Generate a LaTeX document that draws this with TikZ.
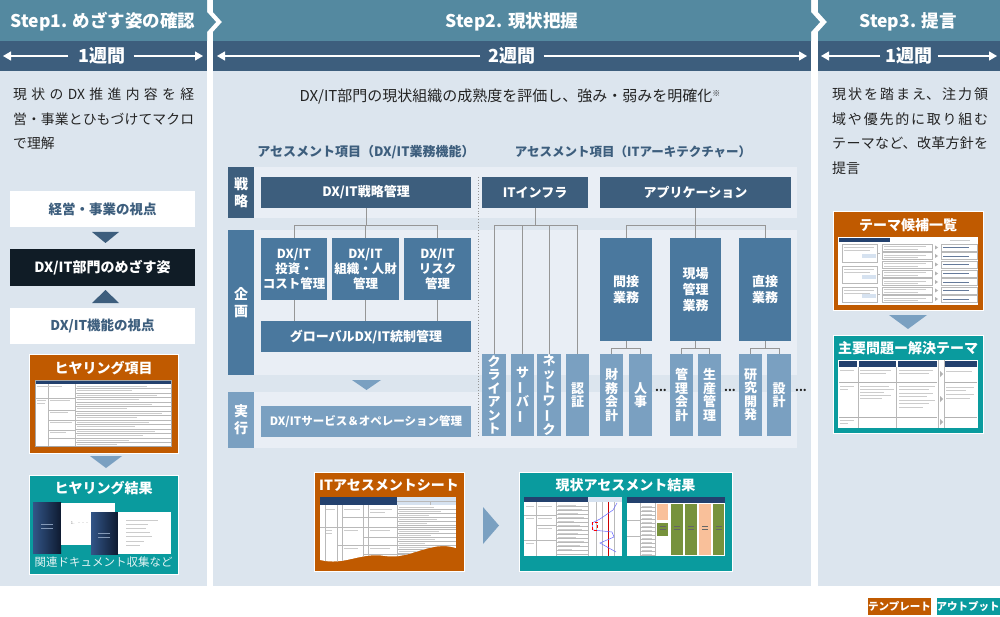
\documentclass[tikz,border=0pt]{standalone}
\usepackage{fontspec}
\setmainfont{Noto Sans CJK JP}
\usetikzlibrary{arrows.meta}
\XeTeXlinebreaklocale "ja"
\XeTeXlinebreakskip=0pt plus 6pt\relax
\definecolor{hdr}{RGB}{84,137,160}
\definecolor{dur}{RGB}{61,94,125}
\definecolor{bodyc}{RGB}{220,229,238}
\definecolor{panel}{RGB}{233,238,245}
\definecolor{dkbox}{RGB}{61,94,125}
\definecolor{mdbox}{RGB}{74,120,158}
\definecolor{ltbox}{RGB}{122,160,193}
\definecolor{orng}{RGB}{192,90,0}
\definecolor{tealc}{RGB}{10,155,158}
\definecolor{blk}{RGB}{16,28,38}
\definecolor{conn}{RGB}{150,150,150}
\definecolor{txt}{RGB}{35,35,35}
\definecolor{navy}{RGB}{35,65,110}
\definecolor{lblue}{RGB}{214,226,240}
\definecolor{grn}{RGB}{119,146,60}
\definecolor{peach}{RGB}{249,192,154}
\definecolor{coverA}{RGB}{50,85,135}
\definecolor{coverB}{RGB}{14,26,48}
\newcommand\mybox[7]{\node[#1, minimum width={#5pt-#3pt}, minimum height={#6pt-#4pt}] (#2) at ({(#3+#5)/2},{(#4+#6)/2}) {#7};}
\newcommand\vbarJ{\rotatebox[origin=c]{90}{ー}}
\tikzset{
 bx/.style={inner sep=0pt, outer sep=0pt, align=center, text=white, font=\fontsize{13}{15.5}\selectfont\bfseries},
 dk/.style={bx, fill=dkbox},
 md/.style={bx, fill=mdbox},
 lt/.style={bx, fill=ltbox},
 vt/.style={font=\fontsize{13}{13.5}\selectfont\bfseries},
 wt/.style={bx, fill=white, text=dkbox, font=\fontsize{13.5}{16}\selectfont\bfseries},
 bk/.style={bx, fill=blk, font=\fontsize{14}{16}\selectfont\bfseries},
 ln/.style={draw=conn, line width=1pt},
 tmpl/.style={bx, fill=orng, draw=white, line width=1pt},
 outp/.style={bx, fill=tealc, draw=white, line width=1pt},
 ttl/.style={text=white, inner sep=0pt, font=\fontsize{14}{16}\selectfont\bfseries},
 htitle/.style={text=white, inner sep=0pt, font=\fontsize{17.5}{20}\selectfont\bfseries},
 dtitle/.style={text=white, inner sep=0pt, font=\fontsize{18}{20}\selectfont\bfseries},
 darr/.style={draw=white, line width=1.2pt, -{Triangle[length=8pt,width=9pt]}},
 desc/.style={text=txt, inner sep=0pt, font=\fontsize{14}{24.5}\selectfont},
 jst/.style={align=justify, anchor=north west, execute at begin node={\tolerance=10000\relax}},
 atitle/.style={text=dkbox, inner sep=0pt, font=\fontsize{12.5}{15}\selectfont\bfseries},
 tg/.style={draw=gray!55, line width=0.3pt},
 tx/.style={draw=gray!40, line width=0.9pt},
 legend/.style={bx, font=\fontsize{10.5}{12}\selectfont\bfseries},
 dotsn/.style={text=txt, inner sep=0pt, font=\fontsize{11}{12}\selectfont\bfseries},
 tiny/.style={text=gray, inner sep=0pt, font=\fontsize{4}{5}\selectfont},
}
\begin{document}
\begin{tikzpicture}[x=1pt,y=-1pt]
\useasboundingbox (0,0) rectangle (1000,617);
% ---------- headers ----------
\fill[hdr] (0,0) -- (207,0) -- (207,12) -- (216,22) -- (207,32) -- (207,41) -- (0,41) -- cycle;
\fill[hdr] (213,0) -- (811,0) -- (811,12) -- (820,22) -- (811,32) -- (811,41) -- (213,41) -- (213,32) -- (222,22) -- (213,12) -- cycle;
\fill[hdr] (818,0) -- (1000,0) -- (1000,41) -- (818,41) -- (818,32) -- (827,22) -- (818,12) -- cycle;
\fill[dur] (0,41) rectangle (207,71);
\fill[dur] (213,41) rectangle (811,71);
\fill[dur] (818,41) rectangle (1000,71);
\fill[bodyc] (0,71) rectangle (207,586);
\fill[bodyc] (213,71) rectangle (811,586);
\fill[bodyc] (818,71) rectangle (1000,586);
\node[htitle] (h1) at (103,22) {Step1. めざす姿の確認};
\node[htitle] (h2) at (512,22) {Step2. 現状把握};
\node[htitle] (h3) at (908,22) {Step3. 提言};
% durations
\node[dtitle] (d1) at (102,56) {1週間};
\coordinate (d1l) at (3,56); \coordinate (d1r) at (203,56);
\draw[darr] ([xshift=-10pt]d1.west) -- (d1l);
\draw[darr] ([xshift=8pt]d1.east) -- (d1r);
\node[dtitle] (d2) at (512,56) {2週間};
\coordinate (d2l) at (217,56); \coordinate (d2r) at (807,56);
\draw[darr] ([xshift=-8pt]d2.west) -- (d2l);
\draw[darr] ([xshift=8pt]d2.east) -- (d2r);
\node[dtitle] (d3) at (909,56) {1週間};
\coordinate (d3l) at (821,56); \coordinate (d3r) at (997,56);
\draw[darr] ([xshift=-5pt]d3.west) -- (d3l);
\draw[darr] ([xshift=5pt]d3.east) -- (d3r);
% ---------- descriptions ----------
\node[desc, jst, font=\fontsize{13.8}{24.5}\selectfont, text width=181pt] (t1) at (13,88) {現状のDX推進内容を経\linebreak 営・事業とひもづけてマクロ\linebreak で理解};
\node[desc, font=\fontsize{15}{24.5}\selectfont] (t2) at (510,97) {DX/IT部門の現状組織の成熟度を評価し、強み・弱みを明確化\raisebox{5pt}{\fontsize{8}{8}\selectfont ※}};
\node[desc, jst, font=\fontsize{14}{24.5}\selectfont, text width=156pt] (t3) at (832,88) {現状を踏まえ、注力領\linebreak 域や優先的に取り組む\linebreak テーマなど、改革方針を\linebreak 提言};
% ---------- step1 ----------
\mybox{wt}{v1}{10}{191}{195}{227}{経営・事業の視点}
\fill[dkbox] (92,232) -- (119,232) -- (105.5,243) -- cycle;
\mybox{bk}{goal}{10}{249}{195}{286}{DX/IT部門のめざす姿}
\fill[dkbox] (92,303) -- (119,303) -- (105.5,290) -- cycle;
\mybox{wt}{v2}{10}{308}{195}{344}{DX/IT機能の視点}
% hearing items
\mybox{tmpl}{hq}{29}{354}{178}{453}{}
\node[ttl] (hqt) at (103.5,368) {ヒヤリング項目};
\fill[white] (35,380) rectangle (171,446);
\fill[navy] (35,380) rectangle (171,384);
\draw[tg] (48,384) -- (48,446) (75,384) -- (75,446);
\foreach \yy in {388.5,393,...,446} \draw[tg] (75,\yy) -- (171,\yy);
\draw[tg] (35,398) -- (75,398) (48,410) -- (75,410) (48,420) -- (75,420) (48,430) -- (75,430) (48,438) -- (75,438);
\foreach \yy/\ll in {386/70,390.5/55,395/80,399.5/62,404/75,408.5/50,413/85,417.5/60,422/72,426.5/58,431/78,435.5/66,440/52,444/40} \draw[tx] (77,\yy) -- ++(\ll,0);
\draw[tx] (37,386) -- ++(25,0) (37,400) -- ++(9,0) (37,403) -- ++(8,0) (50,400) -- ++(20,0) (50,412) -- ++(18,0) (50,422) -- ++(22,0) (50,432) -- ++(16,0);
\draw[gray!70, line width=0.4pt] (35,380) rectangle (171,446);
\fill[ltbox] (90,456) -- (122,456) -- (106,468) -- cycle;
% hearing results
\mybox{outp}{hres}{29}{475}{178}{574}{}
\node[ttl] (hrt) at (103.5,488) {ヒヤリング結果};
\shade[left color=coverA, right color=coverB] (33,502) rectangle (61,553);
\draw[white!40!coverA, line width=0.8pt] (41,524) -- ++(12,0) (41,528) -- ++(12,0);
\fill[white] (61,503) rectangle (115,545);
\node[tiny] (p1t) at (80,523) {1．・・・};
\shade[left color=coverA, right color=coverB] (91,512) rectangle (118,554);
\draw[white!40!coverA, line width=0.8pt] (98,533) -- ++(12,0) (98,537) -- ++(12,0);
\fill[white] (118,512) rectangle (171,554);
\foreach \i/\ll in {0/32,1/22,2/20,3/24,4/26,5/18,6/14} \draw[tx, line width=0.7pt] (126,{520+\i*4.2}) -- ++(\ll,0);
\node[ttl, font=\fontsize{11.5}{13}\selectfont, text=white!88!tealc] (hrc) at (103.5,562) {関連ドキュメント収集など};
% ---------- step2 panels ----------
\fill[panel] (228,167) rectangle (797,218);
\fill[panel] (228,230) rectangle (797,375);
\fill[panel] (228,392) rectangle (797,448);
\node[atitle, font=\fontsize{13}{15}\selectfont\bfseries] (a1) at (366,152) {アセスメント項目（DX/IT業務機能）};
\node[atitle] (a2) at (633,152) {アセスメント項目（ITアーキテクチャー）};
\mybox{dk,font=\fontsize{14}{17}\selectfont\bfseries}{lS}{228}{167}{254}{218}{戦\\略}
\mybox{md,font=\fontsize{14}{17}\selectfont\bfseries}{lK}{228}{230}{254}{375}{企\\画}
\mybox{lt,font=\fontsize{14}{17}\selectfont\bfseries}{lJ}{228}{392}{254}{448}{実\\行}
\draw[conn, dotted, line width=0.8pt] (478,177) -- (478,437);
% business function boxes
\mybox{dk}{strat}{261}{177}{471}{208}{DX/IT戦略管理}
\mybox{md,font=\fontsize{12.5}{15}\selectfont\bfseries}{inv}{261}{238}{327}{300}{DX/IT\\投資・\\コスト管理}
\mybox{md,font=\fontsize{12.5}{15}\selectfont\bfseries}{org}{332}{238}{399}{300}{DX/IT\\組織・人財\\管理}
\mybox{md,font=\fontsize{12.5}{15}\selectfont\bfseries}{risk}{404}{238}{471}{300}{DX/IT\\リスク\\管理}
\mybox{md}{glob}{261}{321}{471}{352}{グローバルDX/IT統制管理}
\fill[ltbox] (352,380) -- (381,380) -- (366.5,390) -- cycle;
\mybox{lt,font=\fontsize{11.5}{14}\selectfont\bfseries}{ops}{261}{406}{471}{437}{DX/ITサービス＆オペレーション管理}
\coordinate (busA) at (0,226);
\coordinate (busB) at (0,348);
\draw[ln] (strat.south) -- (strat.south |- busA);
\draw[ln] (inv.north) -- (inv.north |- busA) -- (risk.north |- busA) -- (risk.north);
\draw[ln] (org.north) -- (org.north |- busA);
\draw[ln] (inv.south) -- (inv.south |- glob.north);
\draw[ln] (org.south) -- (org.south |- glob.north);
\draw[ln] (risk.south) -- (risk.south |- glob.north);
% architecture boxes
\mybox{dk}{infra}{482}{177}{588}{208}{ITインフラ}
\mybox{dk}{app}{600}{177}{791}{208}{アプリケーション}
\mybox{lt,vt}{cl}{482}{354}{506}{436}{ク\\ラ\\イ\\ア\\ン\\ト}
\mybox{lt,vt}{srv}{511}{354}{534}{436}{サ\\\vbarJ\\バ\\\vbarJ}
\mybox{lt,vt}{net}{537}{354}{561}{436}{ネ\\ッ\\ト\\ワ\\\vbarJ\\ク}
\mybox{lt,vt}{auth}{566}{354}{589}{436}{認\\証}
\mybox{md,font=\fontsize{13}{16}\selectfont\bfseries}{indir}{600}{238}{652}{341}{間接\\業務}
\mybox{md,font=\fontsize{13}{16}\selectfont\bfseries}{field}{670}{238}{721}{341}{現場\\管理\\業務}
\mybox{md,font=\fontsize{13}{16}\selectfont\bfseries}{direct}{739}{238}{791}{341}{直接\\業務}
\mybox{lt,vt}{fin}{600}{354}{623}{436}{財\\務\\会\\計}
\mybox{lt,vt}{hum}{629}{354}{652}{436}{人\\事}
\mybox{lt,vt}{macc}{670}{354}{693}{436}{管\\理\\会\\計}
\mybox{lt,vt}{prod}{698}{354}{721}{436}{生\\産\\管\\理}
\mybox{lt,vt}{rnd}{739}{354}{762}{436}{研\\究\\開\\発}
\mybox{lt,vt}{dsg}{767}{354}{791}{436}{設\\計}
\draw[ln] (infra.south) -- (infra.south |- busA);
\draw[ln] (cl.north) -- (cl.north |- busA) -- (auth.north |- busA) -- (auth.north);
\draw[ln] (srv.north) -- (srv.north |- busA);
\draw[ln] (net.north) -- (net.north |- busA);
\draw[ln] (app.south) -- (app.south |- busA);
\draw[ln] (indir.north) -- (indir.north |- busA) -- (direct.north |- busA) -- (direct.north);
\draw[ln] (field.north) -- (field.north |- busA);
\draw[ln] (indir.south) -- (indir.south |- busB);
\draw[ln] (fin.north) -- (fin.north |- busB) -- (hum.north |- busB) -- (hum.north);
\draw[ln] (field.south) -- (field.south |- busB);
\draw[ln] (macc.north) -- (macc.north |- busB) -- (prod.north |- busB) -- (prod.north);
\draw[ln] (direct.south) -- (direct.south |- busB);
\draw[ln] (rnd.north) -- (rnd.north |- busB) -- (dsg.north |- busB) -- (dsg.north);
\node[dotsn, anchor=base] (dt1) at (661,391) {...};
\node[dotsn, anchor=base] (dt2) at (730,391) {...};
\node[dotsn, anchor=base] (dt3) at (801,391) {...};
% ---------- bottom of step2 ----------
\mybox{tmpl}{sheet}{314}{472}{464}{571}{}
\node[ttl] (sht) at (389,485) {ITアセスメントシート};
\fill[navy] (320,497) rectangle (397,505);
\fill[lblue] (397,497) rectangle (456,505);
\draw[tg] (397,501) -- (456,501) (430,501) -- (430,505);
\begin{scope}
\path[clip] (320,505) -- (456,505) -- (456,548) .. controls (430,540) and (410,560) .. (385,556) .. controls (360,552) and (345,566) .. (320,560) -- cycle;
\fill[white] (320,505) rectangle (456,566);
\draw[tg] (325,505) -- (325,566) (337,505) -- (337,566) (342,505) -- (342,566) (363,505) -- (363,566) (368,505) -- (368,566) (397,505) -- (397,566);
\foreach \yy in {509,513,...,565} \draw[tg] (397,\yy) -- (456,\yy);
\draw[tg] (320,527) -- (456,527) (342,517) -- (397,517) (363,537) -- (456,537) (337,545) -- (456,545) (363,554) -- (456,554);
\foreach \yy/\ll in {507/35,511/42,515/30,519/38,523/28,531/40,535/32,539/36,543/26,547/34,551/30} \draw[tx, line width=0.7pt] (399,\yy) -- ++(\ll,0);
\draw[tx, line width=0.7pt] (326,509) -- ++(9,0) (344,509) -- ++(16,0) (370,509) -- ++(22,0) (370,512) -- ++(15,0) (326,530) -- ++(6,0) (326,533) -- ++(6,0) (344,530) -- ++(14,0) (370,530) -- ++(20,0) (344,548) -- ++(14,0) (370,548) -- ++(20,0);
\end{scope}
\fill[ltbox] (483,507) -- (499,525.5) -- (483,544) -- cycle;
\mybox{outp}{res}{519}{472}{732}{571}{}
\node[ttl] (rst) at (625.5,485) {現状アセスメント結果};
% left result image
\fill[white] (524,497) rectangle (622,556);
\fill[navy] (524,497) rectangle (588,502);
\fill[lblue] (588,497) rectangle (622,502);
\draw[tg] (536,502) -- (536,556) (556,502) -- (556,556) (588,502) -- (588,556);
\foreach \x in {596,602,614} \draw[tg] (\x,502) -- (\x,556);
\foreach \yy in {506,510,...,554} \draw[tg] (556,\yy) -- (588,\yy);
\draw[tg] (524,515) -- (556,515) (524,540) -- (556,540) (536,525) -- (556,525);
\foreach \yy/\ll in {505/18,509/24,513/20,517/26,521/16,525/22,529/24,533/20,537/18,541/26,545/22,549/14} \draw[tx, line width=0.6pt] (558,\yy) -- ++(\ll,0);
\draw[tx, line width=0.6pt] (526,506) -- ++(8,0) (526,518) -- ++(8,0) (538,506) -- ++(14,0) (538,518) -- ++(14,0) (538,528) -- ++(14,0) (526,543) -- ++(8,0);
\draw[red!80!black, line width=0.9pt] (608,502) -- (608,556);
\draw[blue!60, line width=0.5pt] (617,503) -- (613,510) -- (600,519) -- (592,523) -- (593,530) -- (612,532) -- (614,537) -- (600,543) -- (616,552);
\draw[red, densely dashed, line width=0.4pt] (592,522) rectangle (597,530);
% right result image
\fill[white] (627,497) rectangle (725,556);
\fill[navy] (627,497) rectangle (725,503);
\draw[tg] (640,503) -- (640,556) (655,503) -- (655,556);
\foreach \yy in {507,511,...,555} \draw[tg] (640,\yy) -- (655,\yy);
\draw[tg] (627,520) -- (640,520) (627,536) -- (640,536);
\foreach \yy in {506,510,...,554} \draw[tx, line width=0.6pt] (642,\yy) -- ++(10,0);
\fill[peach] (657,504) rectangle (668,520);
\fill[grn] (657,523) rectangle (668,536);
\fill[grn] (671,504) rectangle (683,555);
\fill[grn] (685,504) rectangle (697,555);
\fill[peach] (699,504) rectangle (711,555);
\fill[grn] (713,504) rectangle (724,555);
\foreach \x in {662.5,677,691,705,718.5} \draw[black!60, line width=0.5pt] (\x-3,526) -- (\x+3,526) (\x-3,529) -- (\x+3,529);
% ---------- step3 ----------
\mybox{tmpl}{theme}{833}{212}{983}{310}{}
\node[ttl] (tht) at (908,225) {テーマ候補一覧};
\fill[white] (838,237) rectangle (978,305);
\fill[navy] (839,238) rectangle (890,242);
\foreach \ya/\yb in {244/262,266/283,287/302} {
  \draw[tg] (842,\ya) rectangle (877,\yb);
  \fill[lblue] (862,{\yb-8}) rectangle (876,{\yb-4});
  \draw[tx, line width=0.6pt] (844,{\ya+3}) -- ++(30,0) (844,{\ya+6}) -- ++(26,0);
}
\draw[tg] (877,253) -- (880,253) (877,274) -- (880,274) (877,294) -- (880,294);
\foreach \ya in {244,252.5,261,270,278.5,287,295.5} {
  \draw[tg] (882,\ya) rectangle (932,\ya+7);
  \draw[tx, line width=0.6pt] (884,\ya+2.5) -- ++(42,0) (884,\ya+5) -- ++(34,0);
  \fill[gray!60] (935,\ya+1.5) -- (938,\ya+3.5) -- (935,\ya+5.5) -- cycle;
  \draw[tg] (941,\ya) rectangle (977,\ya+7);
  \draw[navy!70, line width=0.6pt] (943,\ya+3.5) -- ++(26,0);
}
\draw[tx, line width=0.6pt] (950,240) -- ++(20,0);
\fill[ltbox] (889,315) -- (927,315) -- (908,329) -- cycle;
\mybox{outp}{sol}{833}{335}{983}{433}{}
\node[ttl] (solt) at (908,348) {主要問題ー解決テーマ};
\fill[white] (838,360) rectangle (978,428);
\fill[navy] (839,361) rectangle (857,367);
\fill[navy] (859,361) rectangle (896,367);
\fill[navy] (897.5,361) rectangle (937,367);
\fill[navy] (945,361) rectangle (977,367);
\draw[gray!60, line width=0.6pt] (839,382.5) -- (937,382.5) (945,382.5) -- (977,382.5) (839,417.5) -- (937,417.5) (945,417.5) -- (977,417.5);
\draw[tg] (858,367) -- (858,428) (896.5,367) -- (896.5,428) (938,360) -- (938,428) (944,360) -- (944,428);
\foreach \yy in {374,399,422} \fill[gray!60] (940,\yy-3) -- (943,\yy) -- (940,\yy+3) -- cycle;
\foreach \yy/\ll in {370/26,373/22,386/24,389/28,392/20,395/26,398/18} \draw[tx, line width=0.6pt] (860,\yy) -- ++(\ll*1.2,0);
\foreach \yy/\ll in {370/34,373/30,386/36,389/30,393/34,396/28,400/36,403/30,407/24} \draw[tx, line width=0.6pt] (899,\yy) -- ++(\ll,0);
\foreach \yy/\ll in {371/26,387/28,390/20,394/28,398/24} \draw[tx, line width=0.6pt] (946,\yy) -- ++(\ll,0);
\draw[tx, line width=0.6pt] (840,370) -- ++(14,0) (840,386) -- ++(14,0) (840,389) -- ++(8,0) (840,420) -- ++(14,0) (840,423) -- ++(8,0);
% ---------- legend ----------
\mybox{legend,fill=orng}{lg1}{869}{598}{930}{615}{テンプレート}
\mybox{legend,fill=tealc}{lg2}{938}{598}{998}{615}{アウトプット}
\end{tikzpicture}
\end{document}
